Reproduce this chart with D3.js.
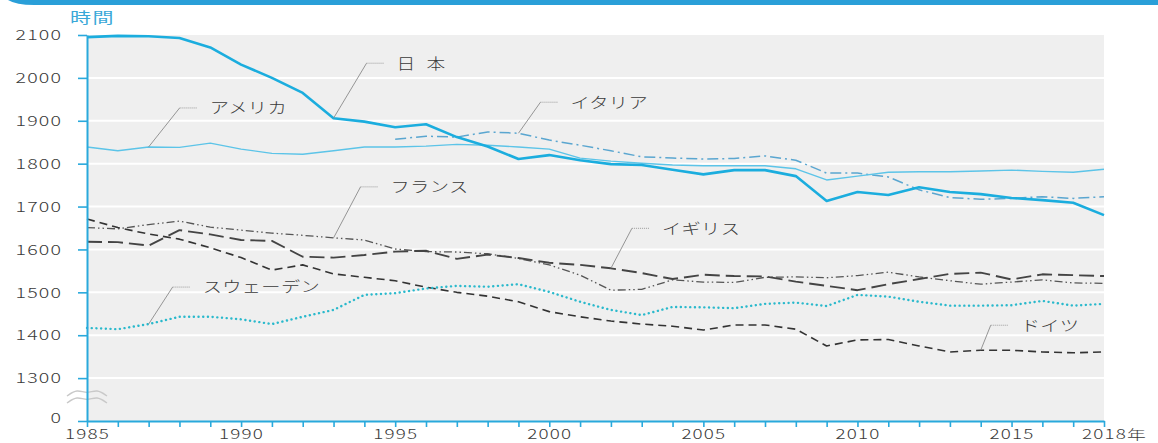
<!DOCTYPE html>
<html><head><meta charset="utf-8">
<script src="https://cdn.jsdelivr.net/npm/d3@7"></script>
<style>body{margin:0;background:#fff;overflow:hidden}svg{display:block}</style>
</head><body>
<svg id="c" width="1158" height="443"></svg>
<script>
// ---------- data ----------
const years = [1985,1986,1987,1988,1989,1990,1991,1992,1993,1994,1995,1996,1997,1998,1999,2000,2001,2002,2003,2004,2005,2006,2007,2008,2009,2010,2011,2012,2013,2014,2015,2016,2017,2018];
const japan   = [2095,2098,2097,2093,2071,2031,2000,1965,1906,1898,1885,1892,1862,1840,1811,1820,1808,1799,1797,1786,1775,1785,1785,1771,1713,1734,1727,1745,1734,1729,1720,1715,1709,1680];
const usa     = [1839,1830,1839,1838,1848,1834,1824,1822,1830,1839,1839,1841,1845,1843,1839,1834,1813,1806,1801,1797,1795,1795,1795,1788,1762,1771,1780,1781,1781,1783,1785,1782,1780,1787];
const italy   = [null,null,null,null,null,null,null,null,null,null,1857,1864,1862,1874,1871,1855,1843,1830,1816,1813,1811,1812,1818,1808,1778,1778,1769,1739,1721,1717,1719,1723,1719,1723];
const france  = [1651,1648,1658,1666,1652,1645,1638,1633,1627,1622,1601,1595,1594,1590,1579,1564,1540,1505,1507,1529,1524,1523,1535,1536,1534,1539,1547,1536,1527,1519,1524,1529,1522,1521];
const uk      = [1618,1617,1609,1645,1635,1622,1620,1583,1581,1587,1595,1597,1578,1588,1580,1569,1564,1556,1545,1531,1541,1538,1537,1525,1515,1505,1519,1531,1543,1546,1530,1542,1540,1538];
const germany = [1671,1651,1636,1624,1604,1581,1552,1564,1543,1535,1527,1512,1500,1491,1478,1455,1443,1433,1426,1421,1412,1424,1424,1414,1375,1389,1390,1375,1361,1365,1365,1361,1359,1361];
const sweden  = [1417,1414,1426,1443,1443,1437,1426,1443,1459,1494,1498,1509,1515,1513,1519,1501,1478,1459,1447,1466,1465,1463,1473,1476,1468,1494,1490,1478,1469,1469,1470,1480,1469,1473];

const seriesNames = ["フランス","イギリス","ドイツ","スウェーデン","イタリア","アメリカ","日本"];
const seriesValues = [france, uk, germany, sweden, italy, usa, japan];
const labelYears = [1993, 2002, 2014, 1987, 1999, 1987, 1993];

const yTickValues = [1200,1300,1400,1500,1600,1700,1800,1900,2000,2100];
const yTickLabels = ["0","1300","1400","1500","1600","1700","1800","1900","2000","2100"];
const xLabelYears = [1985,1990,1995,2000,2005,2010,2015,2018];
const xLabelTexts = ["1985","1990","1995","2000","2005","2010","2015","2018年"];
const yTitle = "時間";

// ---------- styles / layout ----------
const styles = {
  "日本":       {color:"#1badde", width:2.6, dash:null},
  "アメリカ":   {color:"#5cc4e8", width:1.4, dash:null},
  "イタリア":   {color:"#5aa6d0", width:1.5, dash:"11,4,2,4"},
  "フランス":   {color:"#555555", width:1.3, dash:"8,3,1.5,3,1.5,3"},
  "イギリス":   {color:"#444444", width:1.9, dash:"15,6"},
  "ドイツ":     {color:"#333333", width:1.6, dash:"8,5"},
  "スウェーデン":{color:"#2ab9cc", width:2.4, dash:"0.1,4.6", cap:"round"}
};
const leaderOffsets = {
  "日本":[33,-55], "アメリカ":[31,-39], "イタリア":[22,-31], "フランス":[27,-51],
  "イギリス":[21,-40], "スウェーデン":[24,-37], "ドイツ":[10,-25]
};
const axisColor = "#29a9dc";
const textColor = "#3a3a3a";
const font = "'Noto Sans CJK JP','Noto Sans',sans-serif";
const SX = 1.45;

const M = {left:87, right:1104, top:35, bottom:421};
const svg = d3.select("#c");

svg.append("path")
  .attr("d","M8,0 H1158 V5 H34 Q16,5 8,0 Z")
  .attr("fill","#2a9fd8");

const x = d3.scaleLinear().domain([years[0], years[years.length-1]]).range([M.left, M.right]);
const y = d3.scaleLinear().domain([yTickValues[0], yTickValues[yTickValues.length-1]]).range([M.bottom, M.top]);

svg.append("rect").attr("x",M.left).attr("y",M.top)
  .attr("width",M.right-M.left).attr("height",M.bottom-M.top).attr("fill","#efefef");

svg.append("g").selectAll("line").data(yTickValues.slice(1,-1)).join("line")
  .attr("x1",M.left).attr("x2",M.right)
  .attr("y1",d=>y(d)).attr("y2",d=>y(d))
  .attr("stroke","#fff").attr("stroke-width",2);

(function(){
  const bx = 67, by = 396;
  const wave = (off)=>d3.line().curve(d3.curveBasis)([
    [bx, by+off+3],[bx+10, by+off-4],[bx+20, by+off+1],[bx+30, by+off-4],[bx+40, by+off+3]
  ]);
  svg.append("path").attr("d", wave(-3)).attr("fill","none").attr("stroke","#c9c9c9").attr("stroke-width",1.4);
  svg.append("path").attr("d", wave(4)).attr("fill","none").attr("stroke","#c9c9c9").attr("stroke-width",1.4);
})();

const line = d3.line()
  .defined(d=>d[1]!=null)
  .x(d=>x(d[0])).y(d=>y(d[1]));

const gLines = svg.append("g");
seriesNames.forEach((name,i)=>{
  const st = styles[name];
  const pts = years.map((yr,j)=>[yr, seriesValues[i][j]]);
  gLines.append("path")
    .attr("d", line(pts))
    .attr("fill","none")
    .attr("stroke", st.color)
    .attr("stroke-width", st.width)
    .attr("stroke-dasharray", st.dash)
    .attr("stroke-linecap", st.cap || "butt")
    .attr("stroke-linejoin","round");
});

const yAxis = d3.axisLeft(y).tickValues(yTickValues)
  .tickFormat((d,i)=>yTickLabels[i]).tickSize(9).tickSizeOuter(0);
const gy = svg.append("g").attr("transform",`translate(${M.left},0)`).call(yAxis);
gy.select(".domain").attr("stroke",axisColor).attr("stroke-width",2);
gy.selectAll(".tick line").attr("stroke",axisColor).attr("stroke-width",1.6);
gy.selectAll(".tick text")
  .attr("fill",textColor).attr("font-family",font).attr("font-size",13.5).attr("font-weight",300)
  .attr("letter-spacing","0.8px")
  .attr("x", -25/SX).attr("transform",`scale(${SX},1)`)
  .attr("dy", (d,i)=> i===0 ? "0.1em" : "0.35em");

const xAxis = d3.axisBottom(x).tickValues(years)
  .tickFormat(d=>{const k=xLabelYears.indexOf(d); return k<0?"":xLabelTexts[k];})
  .tickSize(6).tickSizeOuter(0);
const gx = svg.append("g").attr("transform",`translate(0,${M.bottom})`).call(xAxis);
gx.select(".domain").attr("stroke",axisColor).attr("stroke-width",2);
gx.selectAll(".tick line").attr("stroke",axisColor).attr("stroke-width",1.6);
gx.selectAll(".tick text")
  .attr("fill",textColor).attr("font-family",font).attr("font-size",13).attr("font-weight",300)
  .attr("letter-spacing","0.8px")
  .attr("y",18).attr("dy",0).attr("transform",`scale(${SX},1)`);
gx.selectAll(".tick text").filter(d=>d===xLabelYears[xLabelYears.length-1]).each(function(){
  const t = d3.select(this);
  const full = t.text();
  t.text(full.replace("年",""));
  const L = this.getComputedTextLength();
  t.attr("text-anchor","start").attr("x",-L/2).text(full);
});

svg.append("text").text(yTitle)
  .attr("transform",`translate(70,23) scale(${SX},1)`)
  .attr("fill","#3aa8d8").attr("font-family",font).attr("font-size",14.5)
  .attr("letter-spacing","1px");

const gLab = svg.append("g");
seriesNames.forEach((name,i)=>{
  const yr = labelYears[i];
  const v = seriesValues[i][years.indexOf(yr)];
  const ax = x(yr), ay = y(v);
  const [ox,oy] = leaderOffsets[name];
  const ex = ax+ox, ey = ay+oy;
  gLab.append("line").attr("x1",ax).attr("y1",ay).attr("x2",ex).attr("y2",ey)
    .attr("stroke","#8a8a8a").attr("stroke-width",0.9);
  gLab.append("line").attr("x1",ex).attr("y1",ey).attr("x2",ex+17).attr("y2",ey)
    .attr("stroke","#9a9a9a").attr("stroke-width",1).attr("stroke-dasharray","1,1");
  gLab.append("text").text(name)
    .attr("transform",`translate(${ex+30},${ey}) scale(${name==="日本"?1.25:1.28},1)`)
    .attr("dy","0.36em")
    .attr("fill",textColor).attr("font-family",font).attr("font-size",15).attr("font-weight",300)
    .attr("letter-spacing", name==="日本" ? "9px" : "0.3px");
});
</script>
</body></html>
